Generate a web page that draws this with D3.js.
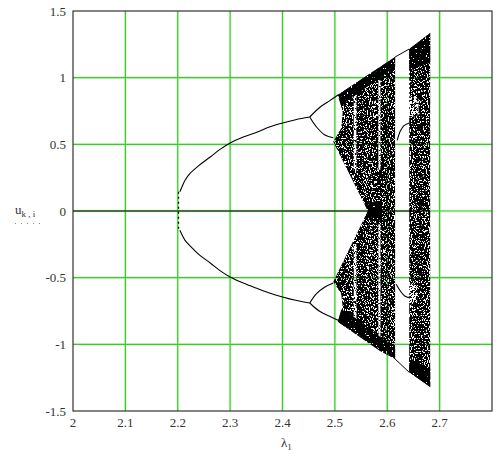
<!DOCTYPE html>
<html><head><meta charset="utf-8">
<script src="https://cdn.jsdelivr.net/npm/d3@7"></script>
<style>html,body{margin:0;padding:0;background:#fff;} svg{display:block;}</style>
</head><body>
<svg id="c" width="497" height="454"></svg>
<script>
// ---------- data (λ, u) ----------
const lambdaTicks = [2, 2.1, 2.2, 2.3, 2.4, 2.5, 2.6, 2.7];
const uTicks = [-1.5, -1, -0.5, 0, 0.5, 1, 1.5];
const lambdaGrid = [2.1, 2.2, 2.3, 2.4, 2.5, 2.6, 2.7];
const uGrid = [-1, -0.5, 0, 0.5, 1];

const zeroBranch = [[2, 0], [2.682, 0]];
const transientAt22 = [[2.2015, 0.145], [2.2015, -0.145]];
const upperBranch = [[2.204,0.145],[2.209,0.19],[2.214,0.23],[2.223,0.28],[2.24,0.34],[2.262,0.405],[2.28,0.46],[2.30,0.51],[2.325,0.555],[2.351,0.59],[2.375,0.63],[2.40,0.66],[2.425,0.685],[2.452,0.705]];
const lowerBranch = [[2.204,-0.145],[2.209,-0.185],[2.214,-0.22],[2.223,-0.26],[2.24,-0.325],[2.262,-0.39],[2.28,-0.445],[2.30,-0.495],[2.325,-0.54],[2.351,-0.58],[2.375,-0.615],[2.40,-0.645],[2.425,-0.67],[2.452,-0.69]];
const p2UpperOuter = [[2.452,0.705],[2.472,0.78],[2.491,0.83],[2.506,0.87]];
const p2UpperInner = [[2.452,0.705],[2.465,0.63],[2.481,0.57],[2.497,0.55]];
const p2LowerOuter = [[2.452,-0.69],[2.47,-0.75],[2.49,-0.79],[2.506,-0.82]];
const p2LowerInner = [[2.452,-0.69],[2.465,-0.62],[2.481,-0.57],[2.497,-0.54]];

// window (periodic) branches
const windowTop = [[2.615,1.155],[2.642,1.215]];
const windowBottom = [[2.615,-1.11],[2.642,-1.21]];
const windowUpperInner = [[2.619,0.53],[2.625,0.60],[2.632,0.64],[2.642,0.66]];
const windowLowerInner = [[2.617,-0.55],[2.625,-0.60],[2.634,-0.64],[2.642,-0.65]];

// chaotic regions
const chaosMain = [[2.5055,0.87],[2.586,1.08],[2.615,1.155],[2.615,-1.11],[2.586,-1.05],[2.5055,-0.83],
  [2.515,-0.72],[2.512,-0.62],[2.497,-0.53],[2.563,0],[2.497,0.52],[2.512,0.62],[2.515,0.74]];
const chaosRight = [[2.642,1.215],[2.682,1.335],[2.682,-1.32],[2.642,-1.21]];
const chaosStripes = [
  [[2.536,0.30],[2.541,0.30],[2.541,0.92],[2.536,0.92]],
  [[2.536,-0.25],[2.541,-0.25],[2.541,-0.88],[2.536,-0.88]],
  [[2.583,0.31],[2.587,0.31],[2.587,0.98],[2.583,0.98]],
  [[2.583,-0.10],[2.587,-0.10],[2.587,-0.95],[2.583,-0.95]]
];
const chaosLightPatches = [
  [[2.642,0.86],[2.66,0.84],[2.66,0.72],[2.642,0.70]],
  [[2.642,-0.54],[2.657,-0.56],[2.657,-0.68],[2.642,-0.69]]
];
const chaosDense = [
  [[2.5055,0.87],[2.615,1.155],[2.615,1.08],[2.515,0.80]],
  [[2.5055,-0.83],[2.615,-1.11],[2.615,-1.03],[2.525,-0.76],[2.512,-0.74]],
  [[2.642,1.215],[2.682,1.335],[2.682,1.12],[2.642,1.05]],
  [[2.642,-1.21],[2.682,-1.32],[2.682,-1.18],[2.642,-1.10]],
  [[2.556,0.06],[2.563,0],[2.556,-0.06],[2.59,-0.08],[2.59,0.08]]
];

// ---------- drawing ----------
const svg = d3.select('#c');
const W = 497, H = 454;
const x = d3.scaleLinear().domain([2, 2.8]).range([73, 492]);
const y = d3.scaleLinear().domain([-1.5, 1.5]).range([411, 11]);
const line = d3.line().x(d => x(d[0])).y(d => y(d[1]));
const smooth = d3.line().x(d => x(d[0])).y(d => y(d[1])).curve(d3.curveCatmullRom);
const ring = r => line(r) + 'Z';

const defs = svg.append('defs');
function speck(id, r0) {
  const f = defs.append('filter').attr('id', id)
    .attr('filterUnits', 'userSpaceOnUse').attr('x', 0).attr('y', 0).attr('width', W).attr('height', H)
    .attr('color-interpolation-filters', 'sRGB');
  f.append('feTurbulence').attr('type', 'fractalNoise').attr('baseFrequency', '0.95 0.6')
    .attr('numOctaves', 2).attr('seed', 7).attr('result', 'n');
  const k = 40;
  f.append('feColorMatrix').attr('in', 'n').attr('type', 'matrix')
    .attr('values', `0 0 0 0 0  0 0 0 0 0  0 0 0 0 0  ${-k} 0 0 0 ${k * r0}`).attr('result', 'm');
  f.append('feComposite').attr('in', 'm').attr('in2', 'SourceGraphic').attr('operator', 'in');
}
speck('mid', 0.60);
speck('dense', 0.72);
speck('semi', 0.49);
speck('light', 0.41);

// grid
const g = svg.append('g');
[['#e6f7d6', 3], ['#33cc33', 1.2]].forEach(([c, w]) => {
  g.selectAll(null).data(lambdaGrid).enter().append('line')
    .attr('x1', d => x(d)).attr('x2', d => x(d)).attr('y1', y(-1.5)).attr('y2', y(1.5))
    .attr('stroke', c).attr('stroke-width', w);
  g.selectAll(null).data(uGrid).enter().append('line')
    .attr('y1', d => y(d)).attr('y2', d => y(d)).attr('x1', x(2)).attr('x2', x(2.8))
    .attr('stroke', c).attr('stroke-width', w);
});

// chaotic regions
const chaos = svg.append('g');
chaos.append('path').attr('d', [chaosMain, chaosRight, ...chaosStripes, ...chaosLightPatches].map(ring).join(''))
  .attr('fill-rule', 'evenodd').attr('fill', '#000').attr('filter', 'url(#mid)');
chaos.append('path').attr('d', chaosStripes.map(ring).join(''))
  .attr('fill', '#000').attr('filter', 'url(#light)');
chaos.append('path').attr('d', chaosLightPatches.map(ring).join(''))
  .attr('fill', '#000').attr('filter', 'url(#semi)');
chaos.append('path').attr('d', chaosDense.map(ring).join(''))
  .attr('fill', '#000').attr('filter', 'url(#dense)');

// branches
const lines = svg.append('g').attr('fill', 'none').attr('stroke', '#000');
lines.append('path').attr('d', line(zeroBranch)).attr('stroke-width', 1);
lines.append('path').attr('d', line(transientAt22)).attr('stroke-width', 1.2).attr('stroke-dasharray', '2,3');
[upperBranch, lowerBranch, p2UpperOuter, p2UpperInner, p2LowerOuter, p2LowerInner,
 windowUpperInner, windowLowerInner].forEach(b =>
  lines.append('path').attr('d', smooth(b)).attr('stroke-width', 1.1));
[windowTop, windowBottom].forEach(b =>
  lines.append('path').attr('d', line(b)).attr('stroke-width', 1));

// frame
svg.append('rect').attr('x', x(2)).attr('y', y(1.5)).attr('width', x(2.8) - x(2)).attr('height', y(-1.5) - y(1.5))
  .attr('fill', 'none').attr('stroke', '#333').attr('stroke-width', 1.2);

// tick labels
const font = '"Liberation Serif", "Times New Roman", serif';
svg.append('g').selectAll('text').data(uTicks).enter().append('text')
  .attr('x', 66).attr('y', d => y(d)).attr('dy', '0.35em').attr('text-anchor', 'end')
  .attr('font-family', font).attr('font-size', 13).attr('fill', '#333').text(d => d);
svg.append('g').selectAll('text').data(lambdaTicks).enter().append('text')
  .attr('x', d => x(d)).attr('y', 427).attr('text-anchor', 'middle')
  .attr('font-family', font).attr('font-size', 13).attr('fill', '#333').text(d => d);

// axis titles
const xt = svg.append('text').attr('x', 281).attr('y', 447).attr('font-family', font)
  .attr('font-size', 13).attr('fill', '#333');
xt.append('tspan').text('λ');
xt.append('tspan').attr('font-size', 9).attr('dy', 3).text('1');

const yt = svg.append('text').attr('x', 15).attr('y', 214).attr('font-family', font)
  .attr('font-size', 13).attr('fill', '#333');
yt.append('tspan').text('u');
yt.append('tspan').attr('font-size', 9).attr('dy', 3).text('k , i');
svg.append('line').attr('x1', 15).attr('x2', 42).attr('y1', 223.5).attr('y2', 223.5)
  .attr('stroke', '#888').attr('stroke-width', 1).attr('stroke-dasharray', '1,5');
</script>
</body></html>
